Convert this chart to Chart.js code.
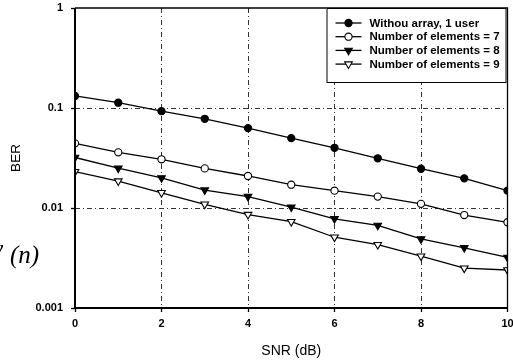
<!DOCTYPE html>
<html><head><meta charset="utf-8">
<script src="https://cdn.jsdelivr.net/npm/chart.js@4/dist/chart.umd.min.js"></script>
<style>html,body{margin:0;padding:0;background:#fff}canvas{display:block}</style>
</head><body>
<canvas id="c" width="513" height="363"></canvas>
<script>
const snr = [0,1,2,3,4,5,6,7,8,9,10];
const seriesLabels = ['Withou array, 1 user','Number of elements = 7','Number of elements = 8','Number of elements = 9'];
const berNoArray = [0.132,0.113,0.093,0.078,0.063,0.050,0.040,0.0314,0.0247,0.0198,0.0149];
const berElem7 = [0.0443,0.036,0.0307,0.0249,0.0209,0.0171,0.0149,0.013,0.011,0.0085,0.0072];
const berElem8 = [0.032,0.025,0.020,0.0151,0.013,0.0102,0.0078,0.0067,0.0049,0.0040,0.0032];
const berElem9 = [0.0231,0.0186,0.0142,0.0109,0.0086,0.0073,0.0051,0.0043,0.0033,0.0025,0.0024];
const xTicks = [0,2,4,6,8,10];
const xTickLabels = ['0','2','4','6','8','10'];
const yTicks = [0.001,0.01,0.1,1];
const yTickLabels = ['0.001','0.01','0.1','1'];
const xTitle = 'SNR (dB)';
const yTitle = 'BER';

const FONT = '"Liberation Sans", Arial, sans-serif';
const styles = [
  {pointStyle:'circle', rotation:0, fill:'#000'},
  {pointStyle:'circle', rotation:0, fill:'#fff'},
  {pointStyle:'triangle', rotation:180, fill:'#000'},
  {pointStyle:'triangle', rotation:180, fill:'#fff'}
];
const allSeries = [berNoArray, berElem7, berElem8, berElem9];

const datasets = allSeries.map((arr, i) => ({
  label: seriesLabels[i],
  data: snr.map((x, j) => ({x: x, y: arr[j]})),
  borderColor: '#000',
  borderWidth: 1.3,
  pointStyle: styles[i].pointStyle,
  rotation: styles[i].rotation,
  pointRadius: styles[i].pointStyle === 'circle' ? 3.6 : 4.4,
  pointBackgroundColor: styles[i].fill,
  pointBorderColor: '#000',
  pointBorderWidth: 1.1,
  tension: 0,
  fill: false
}));

const framePlugin = {
  id: 'frame',
  afterDatasetsDraw(chart) {
    const ctx = chart.ctx, a = chart.chartArea;
    ctx.save();
    ctx.strokeStyle = '#000';
    ctx.lineWidth = 1.3;
    ctx.beginPath();
    ctx.moveTo(a.left, a.top); ctx.lineTo(a.right, a.top); ctx.lineTo(a.right, a.bottom);
    ctx.stroke();
    ctx.lineWidth = 2;
    ctx.beginPath();
    ctx.moveTo(a.left, a.top); ctx.lineTo(a.left, a.bottom); ctx.lineTo(a.right, a.bottom);
    ctx.stroke();

    // legend box
    const bw = 179, bh = 74;
    const bx = a.right - 2 - bw, by = a.top;
    ctx.fillStyle = '#fff';
    ctx.fillRect(bx, by, bw, bh);
    ctx.lineWidth = 1;
    ctx.strokeStyle = '#000';
    ctx.strokeRect(bx + 0.5, by + 0.5, bw, bh);
    ctx.font = 'bold 11.5px ' + FONT;
    ctx.textBaseline = 'middle';
    ctx.textAlign = 'left';
    chart.data.datasets.forEach((ds, i) => {
      const y = by + 15 + i * 13.7;
      ctx.strokeStyle = '#000';
      ctx.lineWidth = 1.3;
      ctx.beginPath();
      ctx.moveTo(bx + 9, y); ctx.lineTo(bx + 35, y);
      ctx.stroke();
      ctx.fillStyle = ds.pointBackgroundColor;
      ctx.strokeStyle = '#000';
      ctx.lineWidth = 1.1;
      Chart.helpers.drawPoint(ctx, {pointStyle: ds.pointStyle, radius: ds.pointRadius, rotation: ds.rotation, borderWidth: 1.1}, bx + 22, y);
      ctx.fillStyle = '#000';
      ctx.fillText(ds.label, bx + 43, y + 0.5);
    });

    // scan artifact text at left
    ctx.font = 'italic 25px "Liberation Serif", serif';
    ctx.fillStyle = '#000';
    ctx.textBaseline = 'middle';
    ctx.fillText('(n)', 10, 256);
    ctx.fillText('y', -8, 250);
    ctx.restore();
  }
};

new Chart(document.getElementById('c'), {
  type: 'line',
  data: {datasets},
  plugins: [framePlugin],
  options: {
    responsive: false,
    animation: false,
    devicePixelRatio: 1,
    layout: {padding: {top: 8, right: 5, left: 0, bottom: 0}},
    plugins: {legend: {display: false}, tooltip: {enabled: false}},
    scales: {
      x: {
        type: 'linear', min: 0, max: 10,
        afterBuildTicks: s => { s.ticks = xTicks.map(v => ({value: v})); },
        afterFit: s => { s.height = 55; s.paddingLeft = 0; s.paddingRight = 0; },
        ticks: {
          autoSkip: false, maxRotation: 0, padding: 5, color: '#000',
          font: {family: FONT, size: 11, weight: 'bold'},
          callback: (v, i) => xTickLabels[i]
        },
        grid: {
          color: c => (c.tick && (c.tick.value === 0 || c.tick.value === 10)) ? 'rgba(0,0,0,0)' : '#333',
          lineWidth: 1, tickLength: 4, tickColor: '#000', tickBorderDash: [], tickWidth: 1.3
        },
        border: {display: false, dash: [5, 3, 1, 3]},
        title: {display: true, text: xTitle, color: '#000', font: {family: FONT, size: 14}, padding: {top: 0, bottom: 3}}
      },
      y: {
        type: 'logarithmic', min: 0.001, max: 1,
        afterBuildTicks: s => { s.ticks = yTicks.map(v => ({value: v})); },
        afterFit: s => { s.width = 75; s.paddingTop = 0; s.paddingBottom = 0; },
        ticks: {
          autoSkip: false, padding: 8, color: '#000',
          font: {family: FONT, size: 11, weight: 'bold'},
          callback: (v, i) => yTickLabels[i]
        },
        grid: {
          color: c => (c.tick && (c.tick.value === 0.001 || c.tick.value === 1)) ? 'rgba(0,0,0,0)' : '#333',
          lineWidth: 1, tickLength: 4, tickColor: '#000', tickBorderDash: [], tickWidth: 1.3
        },
        border: {display: false, dash: [5, 3, 1, 3]},
        title: {display: true, text: yTitle, color: '#000', font: {family: FONT, size: 13.5}, padding: {top: 8, bottom: 0}}
      }
    }
  }
});
</script>
</body></html>
